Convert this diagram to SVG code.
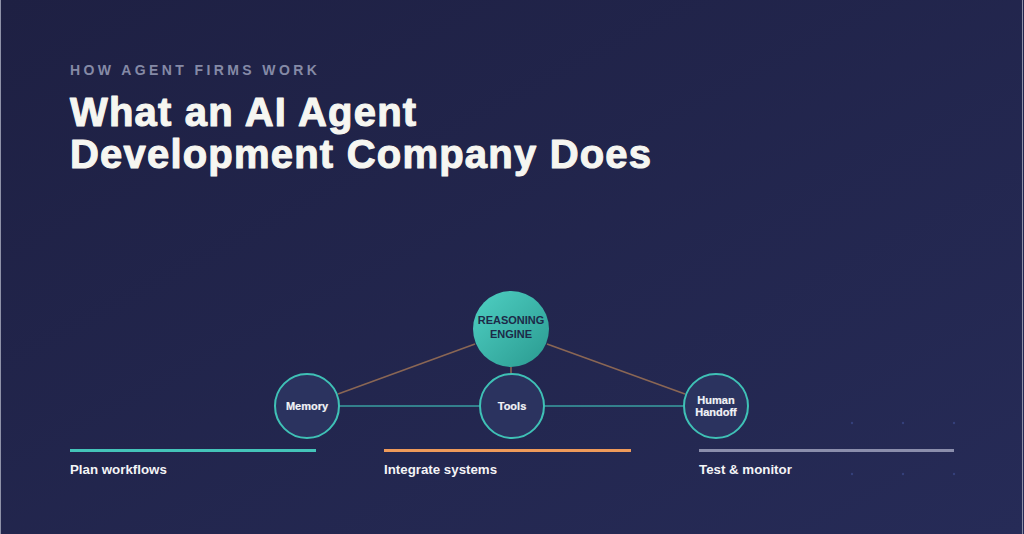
<svg xmlns="http://www.w3.org/2000/svg" width="1024" height="534" viewBox="0 0 1024 534">
  <defs>
    <linearGradient id="bg" x1="0" y1="0" x2="1" y2="1">
      <stop offset="0" stop-color="#1e2043"/>
      <stop offset="1" stop-color="#262b57"/>
    </linearGradient>
    <linearGradient id="eng" x1="0" y1="0" x2="1" y2="1">
      <stop offset="0" stop-color="#4fd0c3"/>
      <stop offset="1" stop-color="#2a9a90"/>
    </linearGradient>
    <style>
      .node { fill: #2b335f; stroke: #3fc1b6; stroke-width: 2; }
      .nlabel { font-family: "Liberation Sans", Arial, sans-serif; font-weight: bold; font-size: 11px; fill: #f2f3f7; text-anchor: middle; stroke: #f2f3f7; stroke-width: 0.2; }
      .elabel { font-family: "Liberation Sans", Arial, sans-serif; font-weight: bold; font-size: 11px; fill: #1c2a48; text-anchor: middle; }
      .brown { stroke: #8a6654; stroke-width: 1.6; fill: none; }
      .teal { stroke: #3a9fa0; stroke-width: 1.6; fill: none; }
      .step { font-family: "Liberation Sans", Arial, sans-serif; font-weight: bold; font-size: 13.3px; fill: #f4f4f6; }
      .dot { fill: #35407a; }
    </style>
  </defs>
  <rect width="1024" height="534" fill="url(#bg)"/>
  <line x1="0.5" y1="0" x2="0.5" y2="534" stroke="#8f92a8" stroke-width="1"/>
  <line x1="1022.5" y1="0" x2="1022.5" y2="534" stroke="#8f92a8" stroke-width="1"/>

  <g id="dots">
    <circle class="dot" cx="852" cy="423" r="1.2"/>
    <circle class="dot" cx="903" cy="423" r="1.2"/>
    <circle class="dot" cx="954" cy="423" r="1.2"/>
    <circle class="dot" cx="852" cy="474" r="1.2"/>
    <circle class="dot" cx="903" cy="474" r="1.2"/>
    <circle class="dot" cx="954" cy="474" r="1.2"/>
  </g>

  <g id="header">
    <text x="70" y="75" font-family="Liberation Sans, Arial, sans-serif" font-weight="bold" font-size="14" letter-spacing="3.4" fill="#858aa6">HOW AGENT FIRMS WORK</text>
    <text font-family="Liberation Sans, Arial, sans-serif" font-weight="bold" font-size="40" letter-spacing="1.2" fill="#f6f6f1" stroke="#f6f6f1" stroke-width="1.1" stroke-linejoin="round">
      <tspan x="70" y="126">What an AI Agent</tspan>
      <tspan x="70" y="168">Development Company Does</tspan>
    </text>
  </g>

  <g id="connectors">
    <line class="brown" x1="475" y1="344" x2="338" y2="394"/>
    <line class="brown" x1="547" y1="344" x2="685" y2="394"/>
    <line class="brown" x1="511" y1="367" x2="511" y2="374"/>
    <line class="teal" x1="339" y1="406" x2="480" y2="406"/>
    <line class="teal" x1="544" y1="406" x2="683" y2="406"/>
  </g>

  <g id="engine">
    <circle cx="511" cy="329" r="38" fill="url(#eng)"/>
    <text class="elabel" x="511" y="324">REASONING</text>
    <text class="elabel" x="511" y="338">ENGINE</text>
  </g>
  <g id="memory">
    <circle class="node" cx="307" cy="406" r="32"/>
    <text class="nlabel" x="307" y="410">Memory</text>
  </g>
  <g id="tools">
    <circle class="node" cx="512" cy="406" r="32"/>
    <text class="nlabel" x="512" y="410">Tools</text>
  </g>
  <g id="handoff">
    <circle class="node" cx="716" cy="406" r="32"/>
    <text class="nlabel" x="716" y="404" font-size="10">Human</text>
    <text class="nlabel" x="716" y="416" font-size="10">Handoff</text>
  </g>

  <g id="step-plan">
    <rect x="70" y="449" width="246" height="3" fill="#44c4b9"/>
    <text class="step" x="70" y="474">Plan workflows</text>
  </g>
  <g id="step-integrate">
    <rect x="384" y="449" width="247" height="3" fill="#ee9a5a"/>
    <text class="step" x="384" y="474">Integrate systems</text>
  </g>
  <g id="step-test">
    <rect x="699" y="449" width="255" height="3" fill="#8b8eac"/>
    <text class="step" x="699" y="474">Test &amp; monitor</text>
  </g>
</svg>
